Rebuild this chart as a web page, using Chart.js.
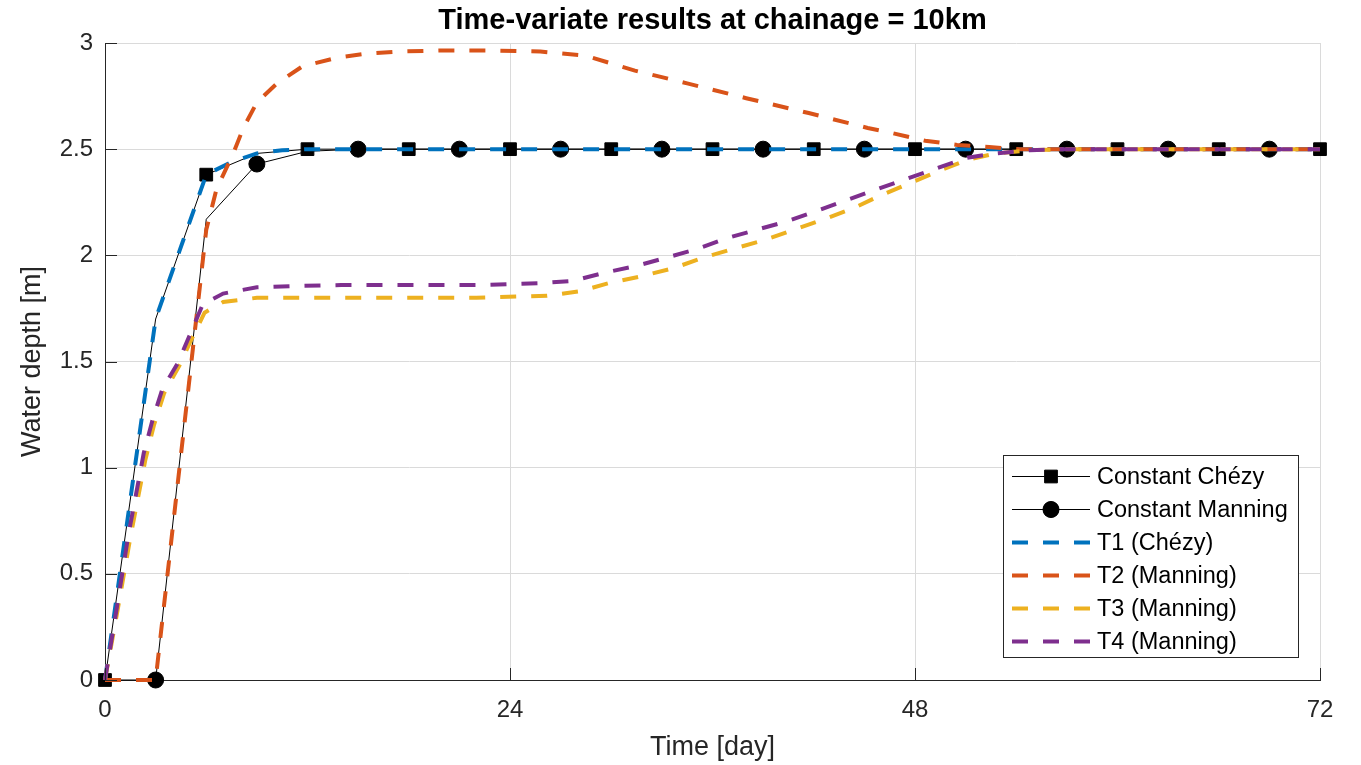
<!DOCTYPE html>
<html>
<head>
<meta charset="utf-8">
<title>Time-variate results at chainage = 10km</title>
<script src="https://cdn.jsdelivr.net/npm/chart.js@4.4.1/dist/chart.umd.min.js"></script>
<style>
  html, body { margin: 0; padding: 0; background: #fff; }
  #wrap { width: 1361px; height: 765px; position: relative; }
</style>
</head>
<body>
<div id="wrap"><canvas id="depthChart"></canvas></div>
<script>
// --- data ---
const days3 = [0, 3, 6, 9, 12, 15, 18, 21, 24, 27, 30, 33, 36, 39, 42, 45, 48, 51, 54, 57, 60, 63, 66, 69, 72];
const constChezy = [0, 1.70, 2.38, 2.48, 2.50, 2.50, 2.50, 2.50, 2.50, 2.50, 2.50, 2.50, 2.50,
                    2.50, 2.50, 2.50, 2.50, 2.50, 2.50, 2.50, 2.50, 2.50, 2.50, 2.50, 2.50];
const constManning = [0, 0, 2.17, 2.43, 2.49, 2.50, 2.50, 2.50, 2.50, 2.50, 2.50, 2.50, 2.50,
                      2.50, 2.50, 2.50, 2.50, 2.50, 2.50, 2.50, 2.50, 2.50, 2.50, 2.50, 2.50];

const t1Days  = [0, 3, 6, 7.5, 9, 10.5, 12, 24, 36, 48, 60, 72];
const t1Depth = [0, 1.70, 2.38, 2.44, 2.48, 2.495, 2.50, 2.50, 2.50, 2.50, 2.50, 2.50];

const t2Days  = [0, 3, 6, 6.6, 7.6, 8.2, 9, 10.2, 11.7, 13.7, 15.5, 17.4, 20, 22.7, 25.8, 28.5,
                 31.4, 34.5, 38, 41.7, 45.2, 46.7, 48.6, 50.5, 52.4, 54.2, 72];
const t2Depth = [0, 0, 2.12, 2.31, 2.48, 2.60, 2.72, 2.81, 2.89, 2.93, 2.95, 2.96, 2.965, 2.965, 2.96, 2.94,
                 2.87, 2.81, 2.74, 2.67, 2.60, 2.575, 2.54, 2.52, 2.51, 2.50, 2.50];

const t3Days  = [0, 0.75, 1.5, 2.4, 2.9, 3.5, 4.4, 5.1, 5.9, 7, 9, 22, 26.2, 28.1, 29.9, 31.7, 33.7,
                 35.5, 37.2, 39, 40.8, 42.6, 44.3, 45.9, 47.7, 49.5, 51.1, 52.8, 54.8, 57, 72];
const t3Depth = [0, 0.33, 0.67, 1.04, 1.20, 1.35, 1.48, 1.60, 1.73, 1.78, 1.80, 1.80, 1.81, 1.83, 1.87, 1.90, 1.94,
                 1.99, 2.03, 2.07, 2.12, 2.17, 2.22, 2.28, 2.34, 2.40, 2.45, 2.48, 2.495, 2.50, 2.50];

const t4Days  = [0, 0.7, 1.4, 2.3, 2.8, 3.4, 4.3, 5, 5.8, 7, 9, 11, 14, 22.2, 26, 27.75, 29.7, 31.5,
                 33.3, 35.1, 36.8, 38.6, 40.4, 42.2, 43.95, 45.7, 47.5, 49.3, 51.1, 52.8, 54.8, 57, 72];
const t4Depth = [0, 0.34, 0.69, 1.07, 1.22, 1.37, 1.49, 1.62, 1.77, 1.82, 1.85, 1.855, 1.86, 1.86, 1.87, 1.88, 1.92, 1.95,
                 1.99, 2.03, 2.08, 2.12, 2.16, 2.21, 2.26, 2.31, 2.36, 2.41, 2.46, 2.48, 2.495, 2.50, 2.50];

const xTicks = [0, 24, 48, 72];
const yTicks = [0, 0.5, 1, 1.5, 2, 2.5, 3];

const TITLE = "Time-variate results at chainage = 10km";
const FONT = "'Liberation Sans', Arial, Helvetica, sans-serif";
const AXIS = "#262626";
const DASH = [16, 15];

const pts = (xs, ys) => xs.map((x, i) => ({ x, y: ys[i] }));

function dashed(label, xs, ys, color, order) {
  return {
    label, data: pts(xs, ys), order,
    borderColor: color, backgroundColor: color,
    borderWidth: 4, borderDash: DASH,
    pointRadius: 0, tension: 0,
    clip: false
  };
}

// title centred over the plot area (not the whole canvas)
const plotTitle = {
  id: "plotTitle",
  afterDraw(chart) {
    const { ctx, chartArea: a } = chart;
    ctx.save();
    ctx.font = "bold 29px " + FONT;
    ctx.fillStyle = "#000";
    ctx.textAlign = "center";
    ctx.textBaseline = "middle";
    ctx.fillText(TITLE, (a.left + a.right) / 2, 21);
    ctx.restore();
  }
};

// inward tick marks, MATLAB style
const innerTicks = {
  id: "innerTicks",
  afterDraw(chart) {
    const { ctx, chartArea: a, scales: { x, y } } = chart;
    ctx.save();
    ctx.strokeStyle = AXIS;
    ctx.lineWidth = 1;
    ctx.beginPath();
    yTicks.forEach(v => {
      const py = Math.round(y.getPixelForValue(v)) + 0.5;
      ctx.moveTo(a.left, py); ctx.lineTo(a.left + 12, py);
    });
    xTicks.forEach(v => {
      const px = Math.round(x.getPixelForValue(v)) + 0.5;
      ctx.moveTo(px, a.bottom); ctx.lineTo(px, a.bottom - 12);
    });
    ctx.stroke();
    ctx.restore();
  }
};

// boxed legend inside the plot, lower right
const boxLegend = {
  id: "boxLegend",
  afterDraw(chart) {
    const ctx = chart.ctx;
    const box = { x: 1003.5, y: 455.5, w: 295, h: 202 };
    const rowH = 33, sx0 = 1012, sx1 = 1090;
    ctx.save();
    ctx.fillStyle = "#fff";
    ctx.fillRect(box.x, box.y, box.w, box.h);
    ctx.strokeStyle = AXIS;
    ctx.lineWidth = 1;
    ctx.setLineDash([]);
    ctx.strokeRect(box.x, box.y, box.w, box.h);
    ctx.font = "23.5px " + FONT;
    ctx.textBaseline = "middle";
    chart.data.datasets.forEach((ds, i) => {
      const cy = box.y + 21 + i * rowH;
      ctx.strokeStyle = ds.borderColor;
      ctx.lineWidth = ds.borderWidth;
      ctx.setLineDash(ds.borderDash || []);
      ctx.beginPath();
      ctx.moveTo(sx0, cy); ctx.lineTo(sx1, cy);
      ctx.stroke();
      ctx.setLineDash([]);
      if (ds.legendMarker) {
        Chart.helpers.drawPoint(ctx, {
          pointStyle: ds.pointStyle, radius: ds.legendMarker, borderWidth: 1
        }, (sx0 + sx1) / 2, cy);
        ctx.fillStyle = "#000";
        ctx.fill();
      }
      ctx.fillStyle = "#000";
      ctx.fillText(ds.label, 1097, cy + 1);
    });
    ctx.restore();
  }
};

new Chart(document.getElementById("depthChart"), {
  type: "line",
  data: {
    datasets: [
      {
        label: "Constant Chézy", data: pts(days3, constChezy), order: 6,
        borderColor: "#000", backgroundColor: "#000", borderWidth: 1,
        pointStyle: "rect", legendMarker: 9,
        pointRadius: c => (c.dataIndex % 2 === 0 ? 9 : 0),
        pointBorderWidth: 1, pointBackgroundColor: "#000", pointBorderColor: "#000",
        clip: false
      },
      {
        label: "Constant Manning", data: pts(days3, constManning), order: 5,
        borderColor: "#000", backgroundColor: "#000", borderWidth: 1,
        pointStyle: "circle", legendMarker: 8,
        pointRadius: c => (c.dataIndex % 2 === 1 ? 8 : 0),
        pointBorderWidth: 1, pointBackgroundColor: "#000", pointBorderColor: "#000",
        clip: false
      },
      dashed("T1 (Chézy)", t1Days, t1Depth, "#0072BD", 4),
      dashed("T2 (Manning)", t2Days, t2Depth, "#D95319", 3),
      dashed("T3 (Manning)", t3Days, t3Depth, "#EDB120", 2),
      dashed("T4 (Manning)", t4Days, t4Depth, "#7E2F8E", 1)
    ]
  },
  options: {
    responsive: true,
    maintainAspectRatio: false,
    animation: false,
    layout: { padding: { left: 0, right: 41, top: 43, bottom: 0 } },
    plugins: {
      legend: { display: false },
      tooltip: { enabled: false },
      title: { display: false }
    },
    scales: {
      x: {
        type: "linear", min: 0, max: 72,
        afterBuildTicks: s => { s.ticks = xTicks.map(v => ({ value: v })); },
        afterFit: s => { s.height = 85; },
        ticks: { color: AXIS, padding: 16, font: { family: FONT, size: 24 }, maxRotation: 0,
                 callback: v => String(v) },
        grid: { color: "#dadada", drawTicks: false },
        border: { color: AXIS, width: 1 },
        title: {
          display: true, text: "Time [day]", color: AXIS,
          font: { family: FONT, size: 27 }, padding: { top: 1, bottom: 1 }
        }
      },
      y: {
        min: 0, max: 3,
        afterBuildTicks: s => { s.ticks = yTicks.map(v => ({ value: v })); },
        afterFit: s => { s.width = 105; },
        ticks: { color: AXIS, padding: 12, font: { family: FONT, size: 24 },
                 callback: v => String(v) },
        grid: { color: "#dadada", drawTicks: false },
        border: { color: AXIS, width: 1 },
        title: {
          display: true, text: "Water depth [m]", color: AXIS,
          font: { family: FONT, size: 27 }, padding: { top: 16, bottom: 16 }
        }
      }
    }
  },
  plugins: [innerTicks, boxLegend, plotTitle]
});
</script>
</body>
</html>
